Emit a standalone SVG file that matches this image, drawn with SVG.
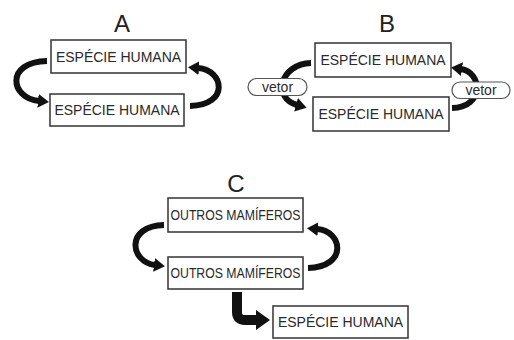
<svg xmlns="http://www.w3.org/2000/svg" width="514" height="340" viewBox="0 0 514 340">
<style>
.box{fill:#fff;stroke:#333;stroke-width:1.5}
.lbl{font-family:"Liberation Sans",Arial,sans-serif;font-size:14px;fill:#2a2a2a;text-anchor:middle}
.ttl{font-family:"Liberation Sans",Arial,sans-serif;font-size:24px;fill:#222;text-anchor:middle}
.arr{fill:none;stroke:#111;stroke-width:6}
.big{fill:none;stroke:#111;stroke-width:10;stroke-linejoin:round}
.pill{fill:#fff;stroke:#555;stroke-width:1.2}
</style>
<defs>
<marker id="ah" markerUnits="userSpaceOnUse" markerWidth="11" markerHeight="14" viewBox="0 0 11 14" refX="1" refY="7" orient="auto">
<path d="M0,0 L11,7 L0,14 z" fill="#111"/>
</marker>
<marker id="bh" markerUnits="userSpaceOnUse" markerWidth="14" markerHeight="20" viewBox="0 0 14 20" refX="1" refY="10" orient="auto">
<path d="M0,0 L14,10 L0,20 z" fill="#111"/>
</marker>
</defs>
<rect width="514" height="340" fill="#fff"/>
<text class="ttl" x="122" y="32">A</text>
<text class="ttl" x="387" y="32">B</text>
<text class="ttl" x="236" y="192">C</text>
<g id="connectors">
<path class="arr" marker-end="url(#ah)" d="M47,61 C5,62 10,98 39,101"/>
<path class="arr" marker-end="url(#ah)" d="M190,106 C230,105 224,70 198,68"/>
<path class="arr" marker-end="url(#ah)" d="M311,63 C280,64 272,98 297,105"/>
<path class="arr" marker-end="url(#ah)" d="M452,108 C485,107 482,72 461,69"/>
<path class="arr" marker-end="url(#ah)" d="M164,225 C125,226 130,262 155,265"/>
<path class="arr" marker-end="url(#ah)" d="M308,268 C348,267 343,231 317,229"/>
<path class="big" marker-end="url(#bh)" d="M237,292 L237,312 Q237,320 245,320 L257,320"/>
</g>
<g id="a-top"><rect class="box" x="51" y="40" width="135" height="33"/><text class="lbl" x="118.5" y="61.5">ESPÉCIE HUMANA</text></g>
<g id="a-bottom"><rect class="box" x="50" y="94" width="134" height="32"/><text class="lbl" x="117" y="115">ESPÉCIE HUMANA</text></g>
<g id="b-top"><rect class="box" x="315" y="43" width="136" height="34"/><text class="lbl" x="383" y="65">ESPÉCIE HUMANA</text></g>
<g id="b-bottom"><rect class="box" x="313" y="97" width="136" height="34"/><text class="lbl" x="381" y="119">ESPÉCIE HUMANA</text></g>
<g id="vetor-left"><rect class="pill" x="248" y="78.5" width="59" height="17" rx="8.5"/><text class="lbl" x="277.5" y="92">vetor</text></g>
<g id="vetor-right"><rect class="pill" x="452" y="82" width="58" height="16.5" rx="8.2"/><text class="lbl" x="481" y="95">vetor</text></g>
<g id="c-top"><rect class="box" x="168" y="198" width="135" height="34"/><text class="lbl" x="235.5" y="220" textLength="130" lengthAdjust="spacingAndGlyphs">OUTROS MAMÍFEROS</text></g>
<g id="c-bottom"><rect class="box" x="168" y="257" width="135" height="32"/><text class="lbl" x="235.5" y="278" textLength="130" lengthAdjust="spacingAndGlyphs">OUTROS MAMÍFEROS</text></g>
<g id="c-human"><rect class="box" x="273" y="306" width="135" height="32"/><text class="lbl" x="340.5" y="327">ESPÉCIE HUMANA</text></g>
</svg>
